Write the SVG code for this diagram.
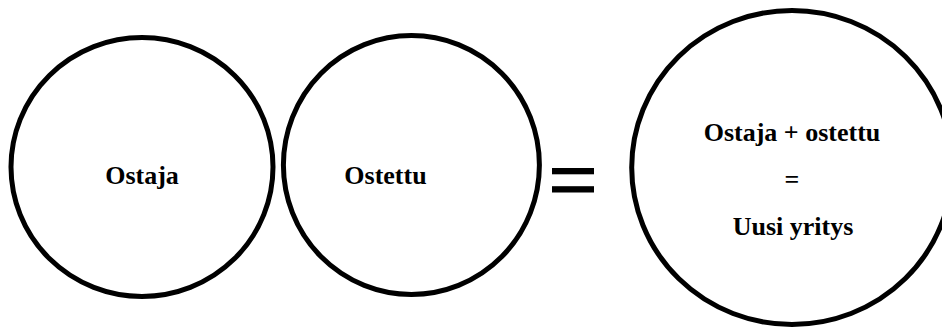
<svg xmlns="http://www.w3.org/2000/svg" width="942" height="329" viewBox="0 0 942 329">
<style>
.node{fill:#fff;stroke:#000;stroke-width:5}
.lbl{font-family:"Liberation Serif","Times New Roman",serif;font-weight:bold;font-size:26px;fill:#000;text-anchor:middle}
</style>
<rect width="942" height="329" fill="#fff"/>
<g id="ostaja">
<ellipse class="node" cx="142" cy="167" rx="131" ry="129.5"/>
<text class="lbl" x="142" y="184">Ostaja</text>
</g>
<g id="ostettu">
<ellipse class="node" cx="411.4" cy="165" rx="128" ry="129.5"/>
<text class="lbl" x="385.5" y="184">Ostettu</text>
</g>
<g id="equals">
<rect x="552" y="168" width="42" height="6.3" fill="#000"/>
<rect x="552" y="186.2" width="42" height="6.3" fill="#000"/>
</g>
<g id="uusi">
<ellipse class="node" cx="792" cy="167.5" rx="160.3" ry="157"/>
<text class="lbl" x="792" y="141">Ostaja + ostettu</text>
<text class="lbl" x="792" y="188">=</text>
<text class="lbl" x="793" y="235">Uusi yritys</text>
</g>
<g id="connectors"/>
</svg>
